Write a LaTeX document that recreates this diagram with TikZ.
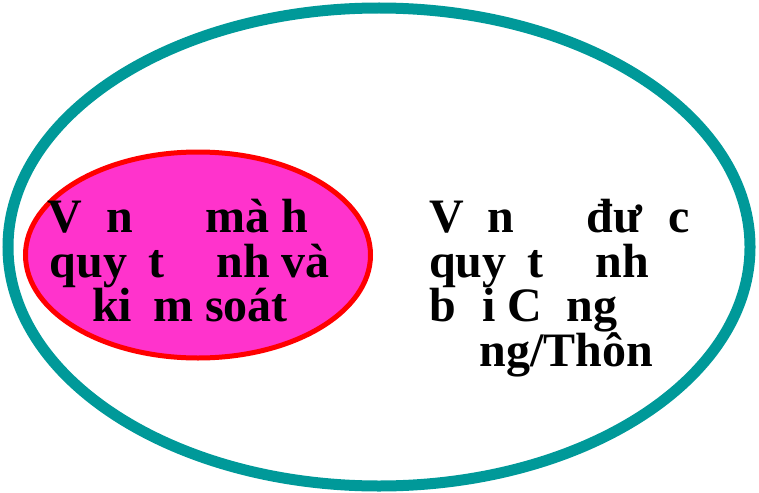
\documentclass[tikz,border=0pt]{standalone}
\usepackage{fontspec}
\setmainfont{Liberation Serif}
\usetikzlibrary{shapes.geometric}
\definecolor{rimteal}{RGB}{0,153,153}
\definecolor{blobpink}{RGB}{255,51,204}
\newcommand{\miss}[1]{\hphantom{#1}}
\tikzset{
  rim/.style   = {ellipse, draw=rimteal, line width=11pt, inner sep=0pt},
  blob/.style  = {ellipse, draw=red, fill=blobpink, line width=5pt, inner sep=0pt},
  label/.style = {font=\fontsize{48}{44.5}\selectfont\bfseries, inner sep=0pt},
}
\begin{document}
\begin{tikzpicture}[x=1pt, y=-1pt]
  \useasboundingbox (0,0) rectangle (759,492);

  % outer ring
  \node[rim, minimum width=742pt, minimum height=478pt] (world) at (379,247) {};

  % inner ellipse
  \node[blob, minimum width=345pt, minimum height=206pt] (own) at (198,255) {};

  % texts
  \node[label, align=center, anchor=north] (owntxt) at (190,199)
    {V\miss{ấ}n \miss{đề} mà h\miss{ọ}\\
     quy\miss{ế}t \miss{đị}nh và\\
     ki\miss{ể}m soát};
  \node[label, align=left, anchor=north west] (commtxt) at (429,199)
    {V\miss{ấ}n \miss{đề} đư\miss{ợ}c\\
     quy\miss{ế}t \miss{đị}nh\\
     b\miss{ở}i C\miss{ộ}ng\\
     \miss{đồ}ng/Thôn};
\end{tikzpicture}
\end{document}
